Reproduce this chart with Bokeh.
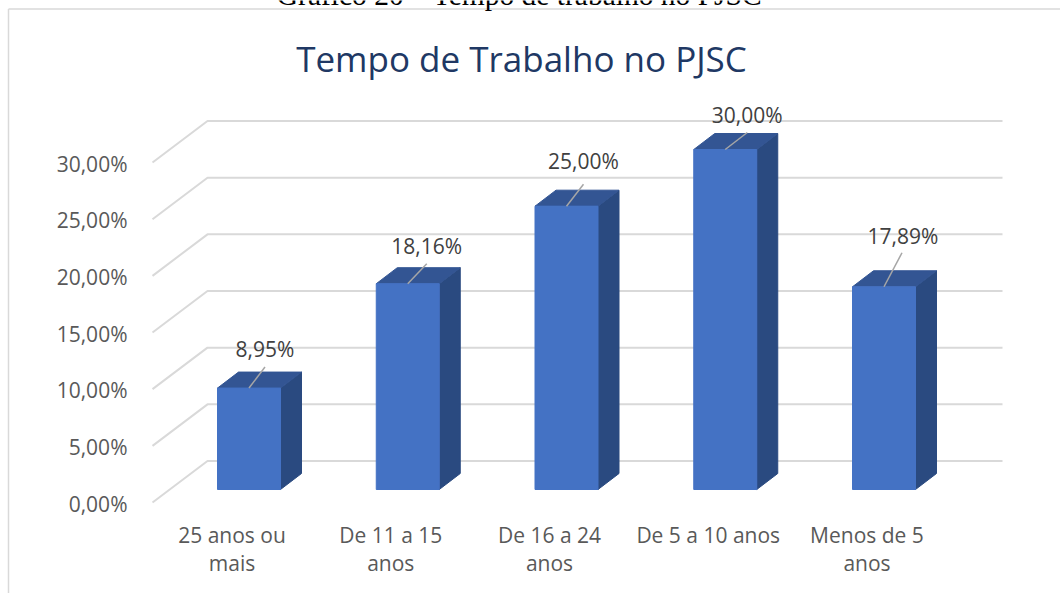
from bokeh.plotting import figure
from bokeh.models import Range1d, LinearAxis, FixedTicker, Label
from bokeh.core.properties import value
from bokeh.embed import file_html
from bokeh.resources import INLINE

categories = ["25 anos ou\nmais", "De 11 a 15\nanos", "De 16 a 24\nanos", "De 5 a 10 anos", "Menos de 5\nanos"]
values = [8.95, 18.16, 25.00, 30.00, 17.89]
value_labels = ["8,95%", "18,16%", "25,00%", "30,00%", "17,89%"]
y_ticks = [0, 5, 10, 15, 20, 25, 30]
y_tick_labels = ["0,00%", "5,00%", "10,00%", "15,00%", "20,00%", "25,00%", "30,00%"]

W, H = 1060, 593
X0, Y0 = 248.5, 489.0      # pixel of first bar centre / of the zero on the bars' front
SX, SY = 158.75, 11.333    # pixels per category / per percent
dx = lambda px: px / SX
dy = lambda px: px / SY
xp = lambda px: (px - X0) / SX
yp = lambda py: (Y0 - py) / SY

GRID = "#d9d9d9"
FRONT, TOP, SIDE = "#4472c4", "#335593", "#2a4a80"
FONT = "Open Sans"

p = figure(width=W, height=H, output_backend="svg", toolbar_location=None,
           x_range=Range1d(xp(0), xp(W)), y_range=Range1d(yp(H), yp(0)),
           min_border=0, min_border_left=0, min_border_right=0, min_border_top=0, min_border_bottom=0,
           outline_line_color=None, x_axis_type=None, y_axis_type=None, margin=(0, 0, 0, 0))
p.xgrid.visible = False
p.ygrid.visible = False

# chart frame
p.segment([xp(8)], [yp(8.5)], [xp(W)], [yp(8.5)], line_color=GRID, line_width=1.5)
p.segment([xp(8)], [yp(8.5)], [xp(8)], [yp(H)], line_color=GRID, line_width=1.5)

# 3D gridlines: floor diagonal + back wall
for v in y_ticks:
    p.line([xp(152), xp(207), xp(1002)],
           [v + dy(-13), v + dy(28.5), v + dy(28.5)], line_color=GRID, line_width=2)

# bars
half = dx(31.5)
ddx, ddy = dx(21), dy(16)
idx = list(range(len(values)))
p.patches([[i + half, i + half + ddx, i + half + ddx, i + half] for i in idx],
          [[0, ddy, v + ddy, v] for v in values], fill_color=SIDE, line_color=SIDE)
p.patches([[i - half, i - half + ddx, i + half + ddx, i + half] for i in idx],
          [[v, v + ddy, v + ddy, v] for v in values], fill_color=TOP, line_color=TOP)
p.vbar(x=idx, top=values, bottom=0, width=2 * half, fill_color=FRONT, line_color=FRONT)

# leader lines and value labels (offset from each bar's top, in pixels)
lead_dx = [16, 19, 17, 22, 18]
lead_dy = [21, 20, 22, 17, 34]
lab_dx = [16, 19, 17, 22, 19]
lab_dy = [39, 38, 45, 35, 51]
p.segment(idx, values, [i + dx(d) for i, d in zip(idx, lead_dx)],
          [v + dy(d) for v, d in zip(values, lead_dy)], line_color="#a6a6a6", line_width=1.5)
p.text([i + dx(d) for i, d in zip(idx, lab_dx)], [v + dy(d) for v, d in zip(values, lab_dy)],
       text=value_labels, text_font=value(FONT), text_font_size="21px", text_color="#404040",
       text_align="center", text_baseline="middle")

# axes (ranges shifted because tick labels sit on the front edge of the 3D floor)
p.extra_y_ranges["ticks"] = Range1d(yp(H) + dy(14), yp(0) + dy(14))
yaxis = LinearAxis(y_range_name="ticks", ticker=FixedTicker(ticks=y_ticks),
                   major_label_overrides=dict(zip(y_ticks, y_tick_labels)),
                   fixed_location=xp(133), axis_line_color=None, major_tick_line_color=None,
                   minor_tick_line_color=None, major_label_standoff=0,
                   major_label_text_color="#595959", major_label_text_font=FONT,
                   major_label_text_font_size="21px")
p.add_layout(yaxis, "left")

p.extra_x_ranges["cats"] = Range1d(xp(0) + dx(17), xp(W) + dx(17))
xaxis = LinearAxis(x_range_name="cats", ticker=FixedTicker(ticks=idx),
                   major_label_overrides=dict(zip(idx, categories)),
                   fixed_location=yp(514), axis_line_color=None, major_tick_line_color=None,
                   minor_tick_line_color=None, major_label_standoff=0,
                   major_label_text_color="#595959", major_label_text_font=FONT,
                   major_label_text_font_size="21px", major_label_text_line_height=1.0)
p.add_layout(xaxis, "below")

# title and the cropped caption above the chart
p.add_layout(Label(x=xp(521), y=yp(57.5), text="Tempo de Trabalho no PJSC", text_font=FONT,
                   text_font_size="35px", text_color="#203864",
                   text_align="center", text_baseline="middle"))
p.add_layout(Label(x=xp(519), y=yp(-6), text="Gráfico 20 – Tempo de trabalho no PJSC",
                   text_font="Liberation Serif", text_font_size="29.5px", text_color="#000000",
                   text_align="center", text_baseline="alphabetic"))

open("out.html", "w").write(file_html(p, INLINE))
